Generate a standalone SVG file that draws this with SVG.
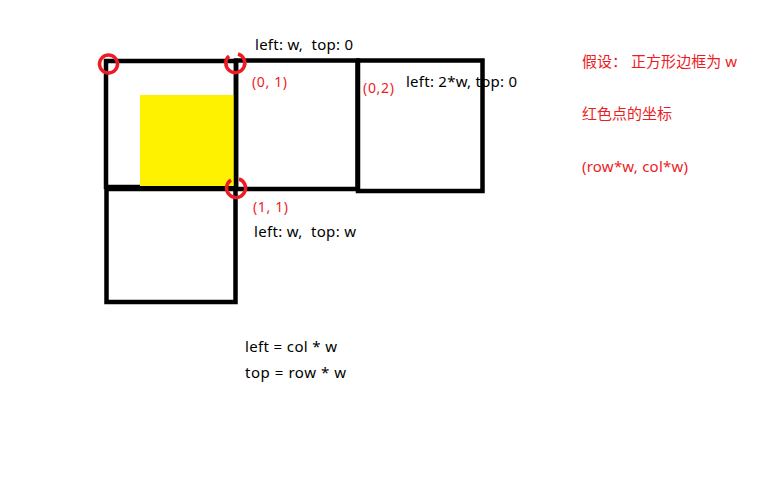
<svg xmlns="http://www.w3.org/2000/svg" width="768" height="480" viewBox="0 0 768 480">
<style>
.box{fill:none;stroke:#000;stroke-width:4.5}
.dot{fill:none;stroke:#ED1C24;stroke-width:3.5}
.t{font-family:"Noto Sans","Noto Sans CJK SC",sans-serif;font-size:15px;fill:#000;white-space:pre}
.r{font-family:"Noto Sans","Noto Sans CJK SC",sans-serif;font-size:15px;fill:#ED1C24;white-space:pre}
.s{font-size:14px}
</style>
<rect width="768" height="480" fill="#fff"/>
<g id="box-0-0"><rect class="box" x="106" y="61" width="130" height="126"/></g>
<g id="yellow"><rect x="140" y="95" width="96" height="91" fill="#FFF200"/></g>
<g id="box-0-1"><rect class="box" x="236" y="60.5" width="121.5" height="128.5"/></g>
<g id="box-0-2"><rect class="box" x="358" y="60.5" width="124.5" height="130.5"/></g>
<g id="box-1-0"><rect class="box" x="106.5" y="189" width="129" height="113"/></g>
<g id="dots">
<circle class="dot" cx="108.5" cy="64" r="9"/>
<path class="dot" d="M229 56 A9.5 9.5 0 1 0 238 54"/>
<path class="dot" d="M231 180 A9.5 9.5 0 1 0 239 179"/>
</g>
<g id="labels">
<text class="t" x="255" y="50" textLength="98" lengthAdjust="spacing" xml:space="preserve">left: w,  top: 0</text>
<text class="r s" x="252" y="87" textLength="35" lengthAdjust="spacing">(0, 1)</text>
<text class="r s" x="363" y="93" textLength="31" lengthAdjust="spacing">(0,2)</text>
<text class="t" x="406" y="87" textLength="111" lengthAdjust="spacing">left: 2*w, top: 0</text>
<text class="r s" x="253" y="212" textLength="35" lengthAdjust="spacing">(1, 1)</text>
<text class="t" x="254" y="237" textLength="102" lengthAdjust="spacing" xml:space="preserve">left: w,  top: w</text>
<text class="t" x="245" y="352" textLength="92" lengthAdjust="spacing">left = col * w</text>
<text class="t" x="245" y="378" textLength="101" lengthAdjust="spacing">top = row * w</text>
<text class="r" x="582" y="67" textLength="155" lengthAdjust="spacing" xml:space="preserve">假设： 正方形边框为 w</text>
<text class="r" x="582" y="119" textLength="90" lengthAdjust="spacing">红色点的坐标</text>
<text class="r" x="582" y="172" textLength="106" lengthAdjust="spacing">(row*w, col*w)</text>
</g>
</svg>
